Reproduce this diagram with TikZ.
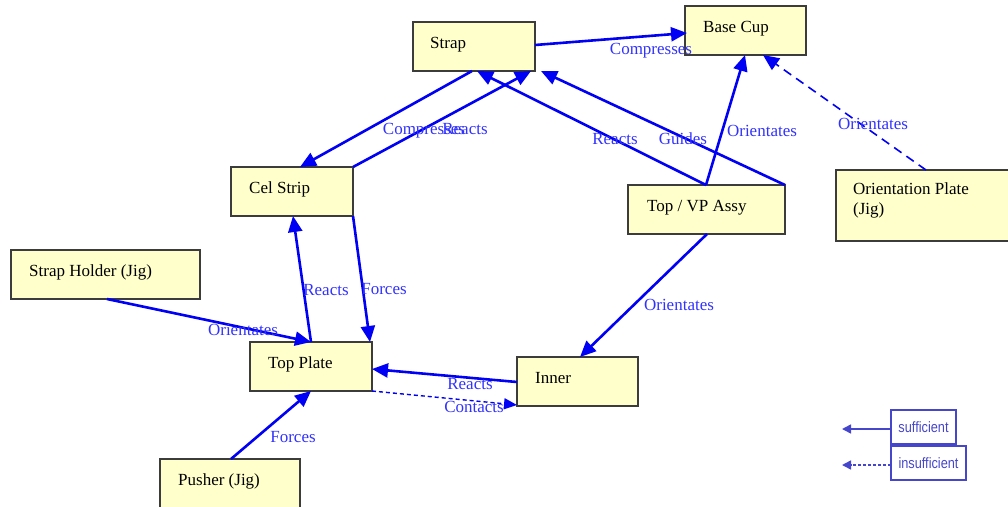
\documentclass[tikz,border=0pt]{standalone}
\usepackage{fontspec}
\setmainfont{Liberation Serif}
\newfontfamily\legendfont[FakeStretch=0.85]{Liberation Sans}
\usetikzlibrary{arrows.meta,calc}

\definecolor{boxfill}{RGB}{255,255,204}
\definecolor{boxline}{RGB}{60,60,60}
\definecolor{edgeblue}{RGB}{0,0,245}
\definecolor{lblblue}{RGB}{50,50,255}
\definecolor{legblue}{RGB}{70,70,205}

\tikzset{
  part/.style={draw=boxline, fill=boxfill, line width=1.2pt, anchor=north west,
    inner sep=0pt, outer sep=0pt},
  parttext/.style={anchor=base west, inner sep=0pt, text=black,
    font=\fontsize{17}{20}\selectfont},
  conn/.style={draw=edgeblue, line width=2.6pt, line join=round,
    -{Triangle[length=16pt,width=14pt]}},
  weakconn/.style={conn, line width=1.6pt, dash pattern=on 9pt off 6pt},
  weakshort/.style={conn, line width=1.4pt, dash pattern=on 4pt off 3pt,
    -{Triangle[length=13pt,width=11pt]}},
  lbl/.style={anchor=base, inner sep=0pt, text=lblblue,
    font=\fontsize{17}{20}\selectfont},
  legbox/.style={draw=legblue, line width=1.4pt, text=legblue, anchor=north west,
    inner sep=0pt, outer sep=0pt, minimum height=34pt,
    font=\legendfont\fontsize{15}{17}\selectfont},
  legarrow/.style={draw=legblue, line width=1.6pt, -{Triangle[length=9pt,width=9pt]}},
}

\begin{document}
\begin{tikzpicture}[x=1pt, y=-1pt]
\useasboundingbox (0,0) rectangle (1008,506);
\clip (0,0) rectangle (1008,506);

% parts and jigs
\node[part, minimum width=122pt, minimum height=49pt] (strap)    at (413,22)  {};
\node[part, minimum width=121pt, minimum height=49pt] (basecup)  at (685,6)   {};
\node[part, minimum width=122pt, minimum height=49pt] (celstrip) at (231,167) {};
\node[part, minimum width=157pt, minimum height=49pt] (topvp)    at (628,185) {};
\node[part, minimum width=180pt, minimum height=71pt] (orient)   at (836,170) {};
\node[part, minimum width=189pt, minimum height=49pt] (holder)   at (11,250)  {};
\node[part, minimum width=122pt, minimum height=49pt] (topplate) at (250,342) {};
\node[part, minimum width=121pt, minimum height=49pt] (inner)    at (517,357) {};
\node[part, minimum width=140pt, minimum height=60pt] (pusher)   at (160,459) {};

\node[parttext] (strapT)    at (430,48)    {Strap};
\node[parttext] (basecupT)  at (703,32)    {Base Cup};
\node[parttext] (celstripT) at (249,193)   {Cel Strip};
\node[parttext] (topvpT)    at (647,211)   {Top / VP Assy};
\node[parttext, anchor=north west, align=left] (orientT) at (853,182.5)
  {Orientation Plate\\(Jig)};
\node[parttext] (holderT)   at (29,276)    {Strap Holder (Jig)};
\node[parttext] (topplateT) at (268,368)   {Top Plate};
\node[parttext] (innerT)    at (535,383)   {Inner};
\node[parttext] (pusherT)   at (178,485)   {Pusher (Jig)};

% sufficient relations
\draw[conn] ($(strap.north east)+(0,23)$) -- ($(basecup.north west)+(2,27)$);
\draw[conn] ($(strap.south west)+(59,0)$) -- ($(celstrip.north west)+(69,0)$);
\draw[conn] (celstrip.north east) -- ($(strap.south east)+(-4,0)$);
\draw[conn] ($(topvp.north west)+(78,0)$) -- ($(strap.south west)+(64,0)$);
\draw[conn] (topvp.north east) -- ($(strap.south east)+(6,0)$);
\draw[conn] ($(topvp.north west)+(78,0)$) -- ($(basecup.south west)+(60,0)$);
\draw[conn] (celstrip.south east) -- ($(topplate.north east)+(-2,0)$);
\draw[conn] ($(topplate.north west)+(61,0)$) -- ($(celstrip.south west)+(62,0)$);
\draw[conn] ($(holder.south west)+(96,0)$) -- ($(topplate.north west)+(61,0)$);
\draw[conn] ($(inner.north west)+(0,25)$) -- ($(topplate.north east)+(0,27)$);
\draw[conn] ($(topvp.south west)+(79,0)$) -- ($(inner.north west)+(63,0)$);
\draw[conn] ($(pusher.north west)+(71,0)$) -- ($(topplate.south west)+(61,0)$);

% insufficient relations
\draw[weakconn] ($(orient.north west)+(90,0)$) -- ($(basecup.south west)+(78,0)$);
\draw[weakshort] (topplate.south east) -- ($(inner.south west)+(0,-1)$);

% relation labels
\node[lbl] (l1)  at (651,54.5)  {Compresses};
\node[lbl] (l2)  at (424,134.5) {Compresses};
\node[lbl] (l3)  at (465,134.5) {Reacts};
\node[lbl] (l4)  at (615,144.5) {Reacts};
\node[lbl] (l5)  at (683,144.5) {Guides};
\node[lbl] (l6)  at (762,136.5) {Orientates};
\node[lbl] (l7)  at (873,129.5) {Orientates};
\node[lbl] (l8)  at (384,294.5) {Forces};
\node[lbl] (l9)  at (326,295.5) {Reacts};
\node[lbl] (l10) at (243,335.5) {Orientates};
\node[lbl] (l11) at (470,389.5) {Reacts};
\node[lbl] (l12) at (474,412.5) {Contacts};
\node[lbl] (l13) at (679,310.5) {Orientates};
\node[lbl] (l14) at (293,442.5) {Forces};

% legend
\node[legbox, minimum width=65pt] (legsuff)   at (891,410) {sufficient};
\node[legbox, minimum width=75pt] (leginsuff) at (891,446) {insufficient};
\coordinate (legsuffEnd)   at (842,429);
\coordinate (leginsuffEnd) at (842,465);
\draw[legarrow] ($(legsuff.north west)+(0,19)$) -- (legsuffEnd);
\draw[legarrow, dash pattern=on 3pt off 2pt] ($(leginsuff.north west)+(0,19)$) -- (leginsuffEnd);
\end{tikzpicture}
\end{document}
